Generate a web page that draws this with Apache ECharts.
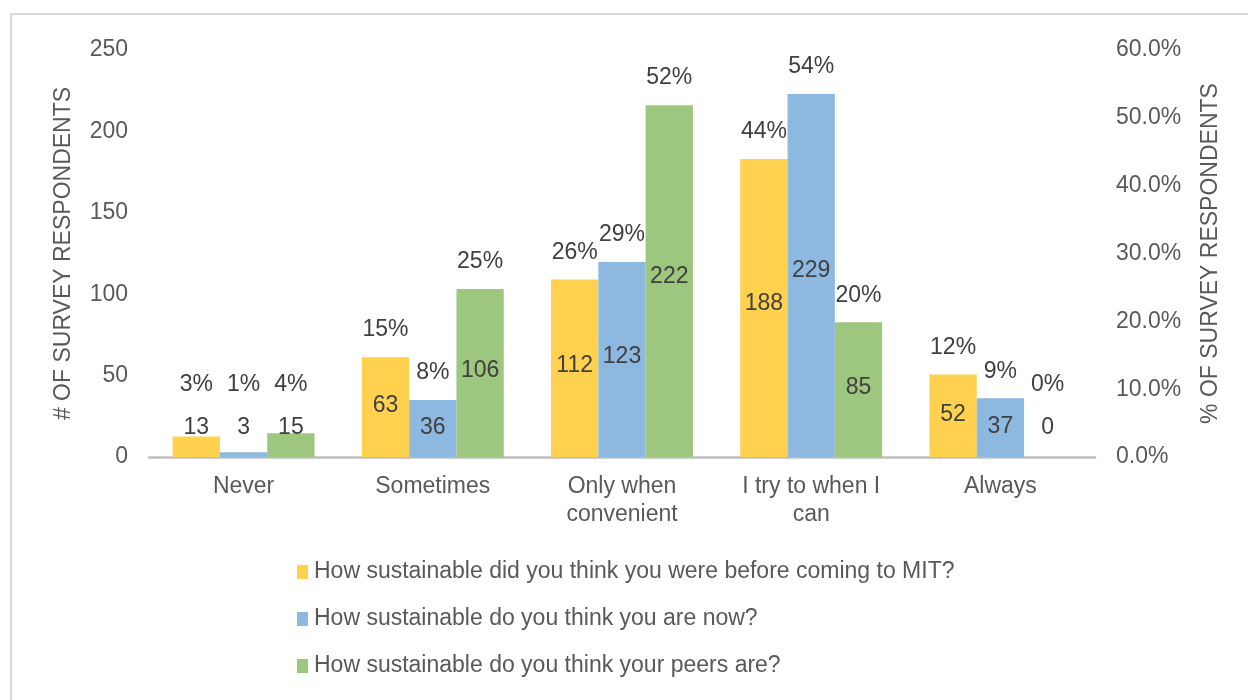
<!DOCTYPE html>
<html>
<head>
<meta charset="utf-8">
<style>
  html, body { margin: 0; padding: 0; background: #ffffff; }
  #chart { width: 1248px; height: 700px; }
</style>
<script src="https://cdn.jsdelivr.net/npm/echarts@6/dist/echarts.min.js"></script>
</head>
<body>
<div id="chart"></div>
<script>
// Survey answers: how sustainable respondents see themselves and their peers
var categories = ['Never', 'Sometimes', 'Only when\nconvenient', 'I try to when I\ncan', 'Always'];
var seriesNames = [
  'How sustainable did you think you were before coming to MIT?',
  'How sustainable do you think you are now?',
  'How sustainable do you think your peers are?'
];
var countsBefore = [13, 63, 112, 188, 52];
var countsNow = [3, 36, 123, 229, 37];
var countsPeers = [15, 106, 222, 85, 0];
var countTicks = [0, 50, 100, 150, 200, 250];
var percentTicks = [0, 10, 20, 30, 40, 50, 60];

var colors = ['#FFD14F', '#8DB8E0', '#9DC67E'];
var textDark = '#404040';
var textAxis = '#595959';
var fontFamily = '"Liberation Sans", Arial, sans-serif';
var fontSize = 23;

// share of all respondents for each answer, in percent
function shares(counts) {
  var total = counts.reduce(function (a, b) { return a + b; }, 0);
  return counts.map(function (c) { return c / total * 100; });
}

var allCounts = [countsBefore, countsNow, countsPeers];

var series = [];
allCounts.forEach(function (counts, i) {
  // visible bars on the percent axis, percent label above
  series.push({
    name: seriesNames[i],
    type: 'bar',
    xAxisIndex: 0,
    yAxisIndex: 1,
    data: shares(counts),
    barGap: '0%',
    barCategoryGap: '25%',
    itemStyle: { color: colors[i] },
    label: {
      show: true,
      position: 'top',
      color: textDark,
      fontFamily: fontFamily,
      fontSize: fontSize,
      formatter: function (p) { return Math.round(p.value) + '%'; }
    },
    labelLayout: function (p) {
      var bottom = p.rect.y + p.rect.height;
      return {
        x: p.rect.x + p.rect.width / 2,
        y: Math.min(p.rect.y - 27, bottom - 72),
        align: 'center',
        verticalAlign: 'middle'
      };
    },
    emphasis: { disabled: true }
  });
});

allCounts.forEach(function (counts, i) {
  // unfilled bars on the count axis that carry the respondent counts
  series.push({
    name: seriesNames[i] + ' (count)',
    type: 'bar',
    xAxisIndex: 1,
    yAxisIndex: 0,
    data: counts,
    barGap: '0%',
    barCategoryGap: '25%',
    itemStyle: { color: 'rgba(0,0,0,0)' },
    silent: true,
    label: {
      show: true,
      position: 'inside',
      color: textDark,
      fontFamily: fontFamily,
      fontSize: fontSize
    },
    labelLayout: function (p) {
      var bottom = p.rect.y + p.rect.height;
      return {
        x: p.rect.x + p.rect.width / 2,
        y: Math.min(p.rect.y + p.rect.height / 2, bottom - 29),
        align: 'center',
        verticalAlign: 'middle'
      };
    },
    emphasis: { disabled: true }
  });
});

var chart = echarts.init(document.getElementById('chart'), null, { renderer: 'canvas' });
chart.setOption({
  backgroundColor: '#ffffff',
  animation: false,
  textStyle: { fontFamily: fontFamily },
  graphic: [{
    type: 'rect',
    shape: { x: 11, y: 14, width: 1300, height: 800 },
    style: { fill: 'none', stroke: '#d9d9d9', lineWidth: 2 },
    silent: true,
    z: -10
  }],
  grid: { left: 149, right: 153, top: 50, bottom: 243, containLabel: false },
  legend: {
    data: seriesNames,
    orient: 'vertical',
    left: 297,
    top: 560,
    padding: 0,
    itemWidth: 11,
    itemHeight: 14,
    itemGap: 23,
    icon: 'rect',
    textStyle: { color: textAxis, fontFamily: fontFamily, fontSize: fontSize, lineHeight: 24, padding: [0, 0, 0, 1] },
    selectedMode: false
  },
  xAxis: [{
    type: 'category',
    data: categories,
    axisLine: { show: true, lineStyle: { color: '#bfbfbf', width: 2.5 } },
    axisTick: { show: false },
    axisLabel: { color: textAxis, fontFamily: fontFamily, fontSize: fontSize, lineHeight: 28, margin: 16, interval: 0 }
  }, {
    type: 'category',
    data: categories,
    show: false
  }],
  yAxis: [{
    type: 'value',
    min: countTicks[0],
    max: countTicks[countTicks.length - 1],
    interval: countTicks[1] - countTicks[0],
    name: '# OF SURVEY RESPONDENTS',
    nameLocation: 'middle',
    nameGap: 74,
    nameTextStyle: { color: textAxis, fontFamily: fontFamily, fontSize: fontSize },
    axisLine: { show: false },
    axisTick: { show: false },
    splitLine: { show: false },
    axisLabel: { color: textAxis, fontFamily: fontFamily, fontSize: fontSize, margin: 21 }
  }, {
    type: 'value',
    position: 'right',
    min: percentTicks[0],
    max: percentTicks[percentTicks.length - 1],
    interval: percentTicks[1] - percentTicks[0],
    name: '% OF SURVEY RESPONDENTS',
    nameLocation: 'middle',
    nameGap: 104,
    nameTextStyle: { color: textAxis, fontFamily: fontFamily, fontSize: fontSize },
    axisLine: { show: false },
    axisTick: { show: false },
    splitLine: { show: false },
    axisLabel: {
      color: textAxis, fontFamily: fontFamily, fontSize: fontSize, margin: 21,
      formatter: function (v) { return v.toFixed(1) + '%'; }
    }
  }],
  series: series
});
</script>
</body>
</html>
